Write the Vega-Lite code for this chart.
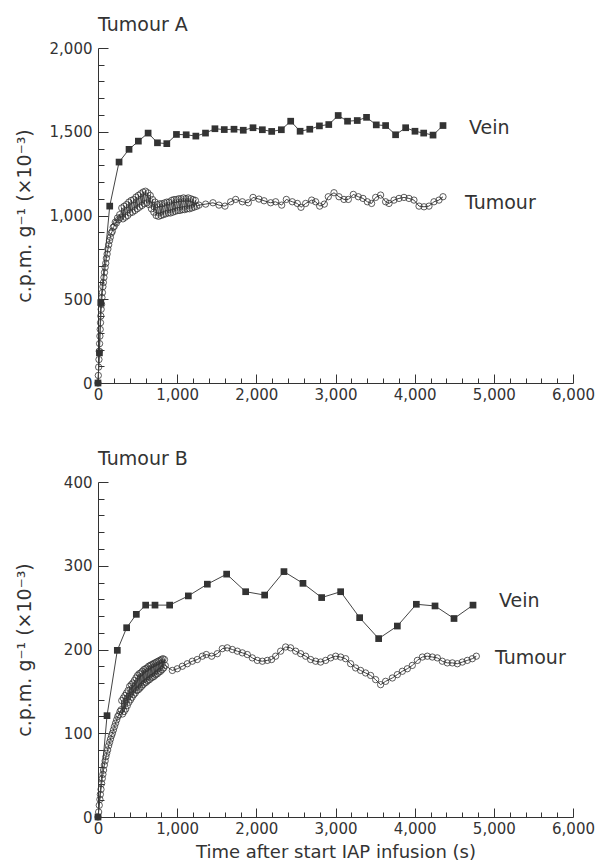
{
  "$schema": "https://vega.github.io/schema/vega-lite/v6.json",
  "padding": {"left": 15, "top": 16, "right": 2, "bottom": 2},
  "background": "white",
  "config": {
    "font": "DejaVu Sans",
    "view": {"stroke": null},
    "axis": {"grid": false, "domainColor": "#333", "tickColor": "#333", "labelColor": "#333", "titleColor": "#333", "labelFont": "DejaVu Sans", "titleFont": "DejaVu Sans", "titleFontWeight": "normal", "labelFontSize": 15, "domainWidth": 1, "tickWidth": 1, "labelOverlap": false, "labelFlush": false},
    "title": {"font": "DejaVu Sans", "fontSize": 19, "fontWeight": "normal", "color": "#333", "anchor": "start", "frame": "group", "offset": 6},
    "concat": {"spacing": 48}
  },
  "datasets": {
    "A": [
      {"t":0,"v":0,"s":"Vein"},{"t":18,"v":180,"s":"Vein"},{"t":35,"v":480,"s":"Vein"},{"t":148,"v":1056,"s":"Vein"},{"t":266,"v":1319,"s":"Vein"},{"t":392,"v":1395,"s":"Vein"},{"t":510,"v":1444,"s":"Vein"},{"t":633,"v":1492,"s":"Vein"},{"t":751,"v":1434,"s":"Vein"},{"t":869,"v":1429,"s":"Vein"},{"t":991,"v":1484,"s":"Vein"},{"t":1114,"v":1482,"s":"Vein"},{"t":1236,"v":1474,"s":"Vein"},{"t":1358,"v":1492,"s":"Vein"},{"t":1477,"v":1518,"s":"Vein"},{"t":1595,"v":1513,"s":"Vein"},{"t":1718,"v":1515,"s":"Vein"},{"t":1835,"v":1509,"s":"Vein"},{"t":1958,"v":1524,"s":"Vein"},{"t":2076,"v":1512,"s":"Vein"},{"t":2194,"v":1502,"s":"Vein"},{"t":2316,"v":1512,"s":"Vein"},{"t":2434,"v":1563,"s":"Vein"},{"t":2553,"v":1503,"s":"Vein"},{"t":2675,"v":1515,"s":"Vein"},{"t":2797,"v":1535,"s":"Vein"},{"t":2915,"v":1543,"s":"Vein"},{"t":3034,"v":1597,"s":"Vein"},{"t":3152,"v":1563,"s":"Vein"},{"t":3275,"v":1567,"s":"Vein"},{"t":3392,"v":1586,"s":"Vein"},{"t":3515,"v":1541,"s":"Vein"},{"t":3633,"v":1537,"s":"Vein"},{"t":3759,"v":1482,"s":"Vein"},{"t":3886,"v":1524,"s":"Vein"},{"t":4004,"v":1503,"s":"Vein"},{"t":4114,"v":1492,"s":"Vein"},{"t":4232,"v":1480,"s":"Vein"},{"t":4358,"v":1537,"s":"Vein"},
      {"t":0,"v":0,"s":"Tumour"},{"t":4,"v":45,"s":"Tumour"},{"t":8,"v":95,"s":"Tumour"},{"t":12,"v":140,"s":"Tumour"},{"t":16,"v":190,"s":"Tumour"},{"t":20,"v":235,"s":"Tumour"},{"t":24,"v":280,"s":"Tumour"},{"t":28,"v":320,"s":"Tumour"},{"t":32,"v":360,"s":"Tumour"},{"t":36,"v":400,"s":"Tumour"},{"t":40,"v":440,"s":"Tumour"},{"t":45,"v":470,"s":"Tumour"},{"t":50,"v":510,"s":"Tumour"},{"t":56,"v":540,"s":"Tumour"},{"t":62,"v":575,"s":"Tumour"},{"t":68,"v":600,"s":"Tumour"},{"t":75,"v":630,"s":"Tumour"},{"t":82,"v":660,"s":"Tumour"},{"t":90,"v":690,"s":"Tumour"},{"t":98,"v":715,"s":"Tumour"},{"t":106,"v":745,"s":"Tumour"},{"t":115,"v":770,"s":"Tumour"},{"t":125,"v":800,"s":"Tumour"},{"t":135,"v":825,"s":"Tumour"},{"t":145,"v":850,"s":"Tumour"},{"t":156,"v":870,"s":"Tumour"},{"t":168,"v":895,"s":"Tumour"},{"t":180,"v":905,"s":"Tumour"},{"t":192,"v":930,"s":"Tumour"},{"t":205,"v":935,"s":"Tumour"},{"t":218,"v":960,"s":"Tumour"},{"t":232,"v":955,"s":"Tumour"},{"t":246,"v":985,"s":"Tumour"},{"t":260,"v":975,"s":"Tumour"},{"t":274,"v":1005,"s":"Tumour"},{"t":288,"v":990,"s":"Tumour"},
      {"t":300,"v":1045,"s":"Tumour"},{"t":315,"v":980,"s":"Tumour"},{"t":330,"v":1055,"s":"Tumour"},{"t":345,"v":990,"s":"Tumour"},{"t":360,"v":1065,"s":"Tumour"},{"t":375,"v":1000,"s":"Tumour"},{"t":390,"v":1080,"s":"Tumour"},{"t":405,"v":1015,"s":"Tumour"},{"t":420,"v":1090,"s":"Tumour"},{"t":435,"v":1020,"s":"Tumour"},{"t":450,"v":1095,"s":"Tumour"},{"t":465,"v":1030,"s":"Tumour"},{"t":480,"v":1110,"s":"Tumour"},{"t":495,"v":1040,"s":"Tumour"},{"t":510,"v":1120,"s":"Tumour"},{"t":525,"v":1050,"s":"Tumour"},{"t":540,"v":1130,"s":"Tumour"},{"t":555,"v":1060,"s":"Tumour"},{"t":570,"v":1140,"s":"Tumour"},{"t":585,"v":1070,"s":"Tumour"},{"t":600,"v":1145,"s":"Tumour"},{"t":615,"v":1075,"s":"Tumour"},{"t":630,"v":1135,"s":"Tumour"},{"t":645,"v":1065,"s":"Tumour"},{"t":660,"v":1120,"s":"Tumour"},{"t":675,"v":1040,"s":"Tumour"},{"t":690,"v":1095,"s":"Tumour"},{"t":705,"v":1020,"s":"Tumour"},{"t":720,"v":1080,"s":"Tumour"},{"t":735,"v":1000,"s":"Tumour"},{"t":750,"v":1065,"s":"Tumour"},{"t":765,"v":995,"s":"Tumour"},{"t":780,"v":1070,"s":"Tumour"},{"t":795,"v":1000,"s":"Tumour"},{"t":810,"v":1070,"s":"Tumour"},{"t":825,"v":1005,"s":"Tumour"},{"t":840,"v":1075,"s":"Tumour"},{"t":855,"v":1010,"s":"Tumour"},{"t":870,"v":1080,"s":"Tumour"},{"t":885,"v":1015,"s":"Tumour"},{"t":900,"v":1080,"s":"Tumour"},{"t":915,"v":1015,"s":"Tumour"},{"t":930,"v":1090,"s":"Tumour"},{"t":945,"v":1020,"s":"Tumour"},{"t":960,"v":1095,"s":"Tumour"},{"t":975,"v":1025,"s":"Tumour"},{"t":990,"v":1095,"s":"Tumour"},{"t":1005,"v":1030,"s":"Tumour"},{"t":1020,"v":1100,"s":"Tumour"},{"t":1035,"v":1030,"s":"Tumour"},{"t":1050,"v":1100,"s":"Tumour"},{"t":1065,"v":1035,"s":"Tumour"},{"t":1080,"v":1105,"s":"Tumour"},{"t":1095,"v":1035,"s":"Tumour"},{"t":1110,"v":1100,"s":"Tumour"},{"t":1125,"v":1040,"s":"Tumour"},{"t":1140,"v":1105,"s":"Tumour"},{"t":1155,"v":1040,"s":"Tumour"},{"t":1170,"v":1100,"s":"Tumour"},{"t":1185,"v":1045,"s":"Tumour"},{"t":1200,"v":1095,"s":"Tumour"},{"t":1215,"v":1050,"s":"Tumour"},{"t":1230,"v":1090,"s":"Tumour"},{"t":1245,"v":1055,"s":"Tumour"},
      {"t":1276,"v":1062,"s":"Tumour"},{"t":1360,"v":1068,"s":"Tumour"},{"t":1452,"v":1076,"s":"Tumour"},{"t":1528,"v":1062,"s":"Tumour"},{"t":1604,"v":1056,"s":"Tumour"},{"t":1676,"v":1082,"s":"Tumour"},{"t":1739,"v":1096,"s":"Tumour"},{"t":1823,"v":1082,"s":"Tumour"},{"t":1899,"v":1076,"s":"Tumour"},{"t":1958,"v":1108,"s":"Tumour"},{"t":2033,"v":1098,"s":"Tumour"},{"t":2097,"v":1088,"s":"Tumour"},{"t":2181,"v":1076,"s":"Tumour"},{"t":2244,"v":1082,"s":"Tumour"},{"t":2320,"v":1062,"s":"Tumour"},{"t":2379,"v":1096,"s":"Tumour"},{"t":2454,"v":1082,"s":"Tumour"},{"t":2518,"v":1072,"s":"Tumour"},{"t":2564,"v":1049,"s":"Tumour"},{"t":2623,"v":1072,"s":"Tumour"},{"t":2699,"v":1092,"s":"Tumour"},{"t":2749,"v":1082,"s":"Tumour"},{"t":2800,"v":1056,"s":"Tumour"},{"t":2859,"v":1068,"s":"Tumour"},{"t":2909,"v":1112,"s":"Tumour"},{"t":2981,"v":1136,"s":"Tumour"},{"t":3044,"v":1112,"s":"Tumour"},{"t":3107,"v":1096,"s":"Tumour"},{"t":3162,"v":1096,"s":"Tumour"},{"t":3225,"v":1126,"s":"Tumour"},{"t":3288,"v":1112,"s":"Tumour"},{"t":3347,"v":1102,"s":"Tumour"},{"t":3402,"v":1082,"s":"Tumour"},{"t":3456,"v":1072,"s":"Tumour"},{"t":3507,"v":1108,"s":"Tumour"},{"t":3570,"v":1122,"s":"Tumour"},{"t":3633,"v":1082,"s":"Tumour"},{"t":3676,"v":1072,"s":"Tumour"},{"t":3739,"v":1092,"s":"Tumour"},{"t":3802,"v":1102,"s":"Tumour"},{"t":3865,"v":1108,"s":"Tumour"},{"t":3928,"v":1102,"s":"Tumour"},{"t":3991,"v":1092,"s":"Tumour"},{"t":4055,"v":1056,"s":"Tumour"},{"t":4118,"v":1052,"s":"Tumour"},{"t":4181,"v":1056,"s":"Tumour"},{"t":4244,"v":1082,"s":"Tumour"},{"t":4307,"v":1092,"s":"Tumour"},{"t":4358,"v":1112,"s":"Tumour"}
    ],
    "B": [
      {"t":0,"v":0,"s":"Vein"},{"t":114,"v":121,"s":"Vein"},{"t":244,"v":199,"s":"Vein"},{"t":362,"v":226,"s":"Vein"},{"t":484,"v":242,"s":"Vein"},{"t":602,"v":253,"s":"Vein"},{"t":720,"v":253,"s":"Vein"},{"t":905,"v":253,"s":"Vein"},{"t":1141,"v":264,"s":"Vein"},{"t":1381,"v":278,"s":"Vein"},{"t":1625,"v":290,"s":"Vein"},{"t":1865,"v":269,"s":"Vein"},{"t":2105,"v":265,"s":"Vein"},{"t":2349,"v":293,"s":"Vein"},{"t":2589,"v":279,"s":"Vein"},{"t":2825,"v":262,"s":"Vein"},{"t":3065,"v":269,"s":"Vein"},{"t":3305,"v":238,"s":"Vein"},{"t":3545,"v":213,"s":"Vein"},{"t":3781,"v":228,"s":"Vein"},{"t":4021,"v":254,"s":"Vein"},{"t":4257,"v":252,"s":"Vein"},{"t":4497,"v":237,"s":"Vein"},{"t":4737,"v":253,"s":"Vein"},
      {"t":0,"v":0,"s":"Tumour"},{"t":8,"v":6,"s":"Tumour"},{"t":16,"v":14,"s":"Tumour"},{"t":24,"v":21,"s":"Tumour"},{"t":30,"v":27,"s":"Tumour"},{"t":38,"v":33,"s":"Tumour"},{"t":46,"v":40,"s":"Tumour"},{"t":54,"v":46,"s":"Tumour"},{"t":62,"v":51,"s":"Tumour"},{"t":70,"v":56,"s":"Tumour"},{"t":80,"v":62,"s":"Tumour"},{"t":90,"v":67,"s":"Tumour"},{"t":100,"v":72,"s":"Tumour"},{"t":110,"v":76,"s":"Tumour"},{"t":122,"v":80,"s":"Tumour"},{"t":134,"v":85,"s":"Tumour"},{"t":146,"v":89,"s":"Tumour"},{"t":158,"v":93,"s":"Tumour"},{"t":170,"v":97,"s":"Tumour"},{"t":182,"v":100,"s":"Tumour"},{"t":195,"v":104,"s":"Tumour"},{"t":208,"v":108,"s":"Tumour"},{"t":222,"v":112,"s":"Tumour"},{"t":236,"v":116,"s":"Tumour"},{"t":250,"v":120,"s":"Tumour"},{"t":264,"v":122,"s":"Tumour"},{"t":278,"v":126,"s":"Tumour"},{"t":292,"v":128,"s":"Tumour"},
      {"t":300,"v":139,"s":"Tumour"},{"t":310,"v":123,"s":"Tumour"},{"t":320,"v":142,"s":"Tumour"},{"t":330,"v":126,"s":"Tumour"},{"t":340,"v":145,"s":"Tumour"},{"t":350,"v":129,"s":"Tumour"},{"t":360,"v":148,"s":"Tumour"},{"t":370,"v":133,"s":"Tumour"},{"t":380,"v":151,"s":"Tumour"},{"t":390,"v":137,"s":"Tumour"},{"t":400,"v":156,"s":"Tumour"},{"t":410,"v":140,"s":"Tumour"},{"t":420,"v":158,"s":"Tumour"},{"t":430,"v":143,"s":"Tumour"},{"t":440,"v":160,"s":"Tumour"},{"t":450,"v":146,"s":"Tumour"},{"t":460,"v":163,"s":"Tumour"},{"t":470,"v":148,"s":"Tumour"},{"t":480,"v":166,"s":"Tumour"},{"t":490,"v":151,"s":"Tumour"},{"t":500,"v":169,"s":"Tumour"},{"t":510,"v":152,"s":"Tumour"},{"t":520,"v":171,"s":"Tumour"},{"t":530,"v":154,"s":"Tumour"},{"t":540,"v":172,"s":"Tumour"},{"t":550,"v":156,"s":"Tumour"},{"t":560,"v":174,"s":"Tumour"},{"t":570,"v":158,"s":"Tumour"},{"t":580,"v":176,"s":"Tumour"},{"t":590,"v":160,"s":"Tumour"},{"t":600,"v":177,"s":"Tumour"},{"t":610,"v":161,"s":"Tumour"},{"t":620,"v":178,"s":"Tumour"},{"t":630,"v":163,"s":"Tumour"},{"t":640,"v":180,"s":"Tumour"},{"t":650,"v":164,"s":"Tumour"},{"t":660,"v":181,"s":"Tumour"},{"t":670,"v":166,"s":"Tumour"},{"t":680,"v":182,"s":"Tumour"},{"t":690,"v":167,"s":"Tumour"},{"t":700,"v":183,"s":"Tumour"},{"t":710,"v":168,"s":"Tumour"},{"t":720,"v":184,"s":"Tumour"},{"t":730,"v":170,"s":"Tumour"},{"t":740,"v":185,"s":"Tumour"},{"t":750,"v":171,"s":"Tumour"},{"t":760,"v":186,"s":"Tumour"},{"t":770,"v":173,"s":"Tumour"},{"t":780,"v":187,"s":"Tumour"},{"t":790,"v":174,"s":"Tumour"},{"t":800,"v":188,"s":"Tumour"},{"t":810,"v":176,"s":"Tumour"},{"t":820,"v":189,"s":"Tumour"},{"t":830,"v":178,"s":"Tumour"},{"t":840,"v":188,"s":"Tumour"},{"t":850,"v":181,"s":"Tumour"},
      {"t":939,"v":175,"s":"Tumour"},{"t":1002,"v":177,"s":"Tumour"},{"t":1065,"v":180,"s":"Tumour"},{"t":1128,"v":183,"s":"Tumour"},{"t":1191,"v":186,"s":"Tumour"},{"t":1254,"v":188,"s":"Tumour"},{"t":1318,"v":192,"s":"Tumour"},{"t":1368,"v":194,"s":"Tumour"},{"t":1436,"v":192,"s":"Tumour"},{"t":1507,"v":195,"s":"Tumour"},{"t":1570,"v":201,"s":"Tumour"},{"t":1633,"v":202,"s":"Tumour"},{"t":1697,"v":200,"s":"Tumour"},{"t":1760,"v":198,"s":"Tumour"},{"t":1823,"v":196,"s":"Tumour"},{"t":1886,"v":194,"s":"Tumour"},{"t":1949,"v":190,"s":"Tumour"},{"t":2012,"v":187,"s":"Tumour"},{"t":2076,"v":186,"s":"Tumour"},{"t":2139,"v":187,"s":"Tumour"},{"t":2193,"v":188,"s":"Tumour"},{"t":2244,"v":192,"s":"Tumour"},{"t":2307,"v":198,"s":"Tumour"},{"t":2370,"v":203,"s":"Tumour"},{"t":2433,"v":202,"s":"Tumour"},{"t":2497,"v":198,"s":"Tumour"},{"t":2560,"v":195,"s":"Tumour"},{"t":2623,"v":192,"s":"Tumour"},{"t":2686,"v":188,"s":"Tumour"},{"t":2749,"v":186,"s":"Tumour"},{"t":2812,"v":185,"s":"Tumour"},{"t":2876,"v":187,"s":"Tumour"},{"t":2939,"v":190,"s":"Tumour"},{"t":3002,"v":192,"s":"Tumour"},{"t":3065,"v":191,"s":"Tumour"},{"t":3128,"v":189,"s":"Tumour"},{"t":3191,"v":183,"s":"Tumour"},{"t":3254,"v":178,"s":"Tumour"},{"t":3317,"v":175,"s":"Tumour"},{"t":3380,"v":172,"s":"Tumour"},{"t":3444,"v":169,"s":"Tumour"},{"t":3507,"v":164,"s":"Tumour"},{"t":3570,"v":158,"s":"Tumour"},{"t":3633,"v":162,"s":"Tumour"},{"t":3718,"v":166,"s":"Tumour"},{"t":3781,"v":170,"s":"Tumour"},{"t":3844,"v":174,"s":"Tumour"},{"t":3907,"v":177,"s":"Tumour"},{"t":3970,"v":181,"s":"Tumour"},{"t":4034,"v":187,"s":"Tumour"},{"t":4097,"v":191,"s":"Tumour"},{"t":4160,"v":192,"s":"Tumour"},{"t":4223,"v":191,"s":"Tumour"},{"t":4286,"v":190,"s":"Tumour"},{"t":4349,"v":186,"s":"Tumour"},{"t":4412,"v":184,"s":"Tumour"},{"t":4476,"v":184,"s":"Tumour"},{"t":4539,"v":183,"s":"Tumour"},{"t":4602,"v":185,"s":"Tumour"},{"t":4665,"v":187,"s":"Tumour"},{"t":4728,"v":189,"s":"Tumour"},{"t":4779,"v":192,"s":"Tumour"}
    ],
    "labelsA": [{"t":4686,"v":1525,"label":"Vein"},{"t":4635,"v":1075,"label":"Tumour"}],
    "labelsB": [{"t":5065,"v":258,"label":"Vein"},{"t":5014,"v":190,"label":"Tumour"}]
  },
  "vconcat": [
    {
      "title": {"text": "Tumour A"},
      "width": 475,
      "height": 335,
      "data": {"name": "A"},
      "resolve": {"axis": {"x": "independent", "y": "independent"}},
      "encoding": {
        "x": {"field": "t", "type": "quantitative", "scale": {"domain": [0, 6000], "nice": false}, "axis": null},
        "y": {"field": "v", "type": "quantitative", "scale": {"domain": [0, 2000], "nice": false}, "axis": null}
      },
      "layer": [
        {"mark": {"type": "line", "opacity": 0},
         "encoding": {
           "x": {"field": "t", "type": "quantitative", "scale": {"domain": [0, 6000], "nice": false},
             "axis": {"orient": "bottom", "title": null, "labels": false, "domain": false, "tickSize": -5, "values": [200,400,600,800,1200,1400,1600,1800,2200,2400,2600,2800,3200,3400,3600,3800,4200,4400,4600,4800,5200,5400,5600,5800]}},
           "y": {"field": "v", "type": "quantitative", "scale": {"domain": [0, 2000], "nice": false},
             "axis": {"orient": "left", "title": null, "labels": false, "domain": false, "tickSize": -6, "values": [100,200,300,400,600,700,800,900,1100,1200,1300,1400,1600,1700,1800,1900]}}
         }},
        {"mark": {"type": "line", "color": "#444", "strokeWidth": 1},
         "encoding": {
           "x": {"field": "t", "type": "quantitative", "scale": {"domain": [0, 6000], "nice": false},
             "axis": {"orient": "bottom", "title": null, "values": [0,1000,2000,3000,4000,5000,6000], "labelExpr": "format(datum.value, ',')", "tickSize": -9, "labelPadding": 13}},
           "y": {"field": "v", "type": "quantitative", "scale": {"domain": [0, 2000], "nice": false},
             "axis": {"orient": "left", "title": "c.p.m. g⁻¹ (×10⁻³)", "titleFontSize": 19, "titlePadding": 15, "values": [0,500,1000,1500,2000], "labelExpr": "format(datum.value, ',')", "tickSize": -10, "labelPadding": 16}},
           "detail": {"field": "s"}, "order": {"field": "t"}
         }},
        {"transform": [{"filter": "datum.s === 'Vein'"}], "mark": {"type": "point", "shape": "square", "filled": true, "size": 45, "color": "#333", "opacity": 1}},
        {"transform": [{"filter": "datum.s === 'Tumour'"}], "mark": {"type": "point", "shape": "circle", "filled": false, "size": 40, "color": "#333", "strokeWidth": 0.8, "opacity": 1}},
        {"data": {"name": "labelsA"}, "mark": {"type": "text", "align": "left", "baseline": "middle", "fontSize": 19, "color": "#333", "font": "DejaVu Sans"}, "encoding": {"text": {"field": "label"}}}
      ]
    },
    {
      "title": {"text": "Tumour B"},
      "width": 475,
      "height": 335,
      "data": {"name": "B"},
      "resolve": {"axis": {"x": "independent", "y": "independent"}},
      "encoding": {
        "x": {"field": "t", "type": "quantitative", "scale": {"domain": [0, 6000], "nice": false}, "axis": null},
        "y": {"field": "v", "type": "quantitative", "scale": {"domain": [0, 400], "nice": false}, "axis": null}
      },
      "layer": [
        {"mark": {"type": "line", "opacity": 0},
         "encoding": {
           "x": {"field": "t", "type": "quantitative", "scale": {"domain": [0, 6000], "nice": false},
             "axis": {"orient": "bottom", "title": null, "labels": false, "domain": false, "tickSize": -5, "values": [200,400,600,800,1200,1400,1600,1800,2200,2400,2600,2800,3200,3400,3600,3800,4200,4400,4600,4800,5200,5400,5600,5800]}},
           "y": {"field": "v", "type": "quantitative", "scale": {"domain": [0, 400], "nice": false},
             "axis": {"orient": "left", "title": null, "labels": false, "domain": false, "tickSize": -6, "values": [20,40,60,80,120,140,160,180,220,240,260,280,320,340,360,380]}}
         }},
        {"mark": {"type": "line", "color": "#444", "strokeWidth": 1},
         "encoding": {
           "x": {"field": "t", "type": "quantitative", "scale": {"domain": [0, 6000], "nice": false},
             "axis": {"orient": "bottom", "title": "Time after start IAP infusion (s)", "titleFontSize": 18, "titlePadding": 7, "values": [0,1000,2000,3000,4000,5000,6000], "labelExpr": "format(datum.value, ',')", "tickSize": -9, "labelPadding": 13}},
           "y": {"field": "v", "type": "quantitative", "scale": {"domain": [0, 400], "nice": false},
             "axis": {"orient": "left", "title": "c.p.m. g⁻¹ (×10⁻³)", "titleFontSize": 19, "titlePadding": 29, "values": [0,100,200,300,400], "labelExpr": "format(datum.value, ',')", "tickSize": -10, "labelPadding": 16}},
           "detail": {"field": "s"}, "order": {"field": "t"}
         }},
        {"transform": [{"filter": "datum.s === 'Vein'"}], "mark": {"type": "point", "shape": "square", "filled": true, "size": 45, "color": "#333", "opacity": 1}},
        {"transform": [{"filter": "datum.s === 'Tumour'"}], "mark": {"type": "point", "shape": "circle", "filled": false, "size": 40, "color": "#333", "strokeWidth": 0.8, "opacity": 1}},
        {"data": {"name": "labelsB"}, "mark": {"type": "text", "align": "left", "baseline": "middle", "fontSize": 19, "color": "#333", "font": "DejaVu Sans"}, "encoding": {"text": {"field": "label"}}}
      ]
    }
  ]
}
